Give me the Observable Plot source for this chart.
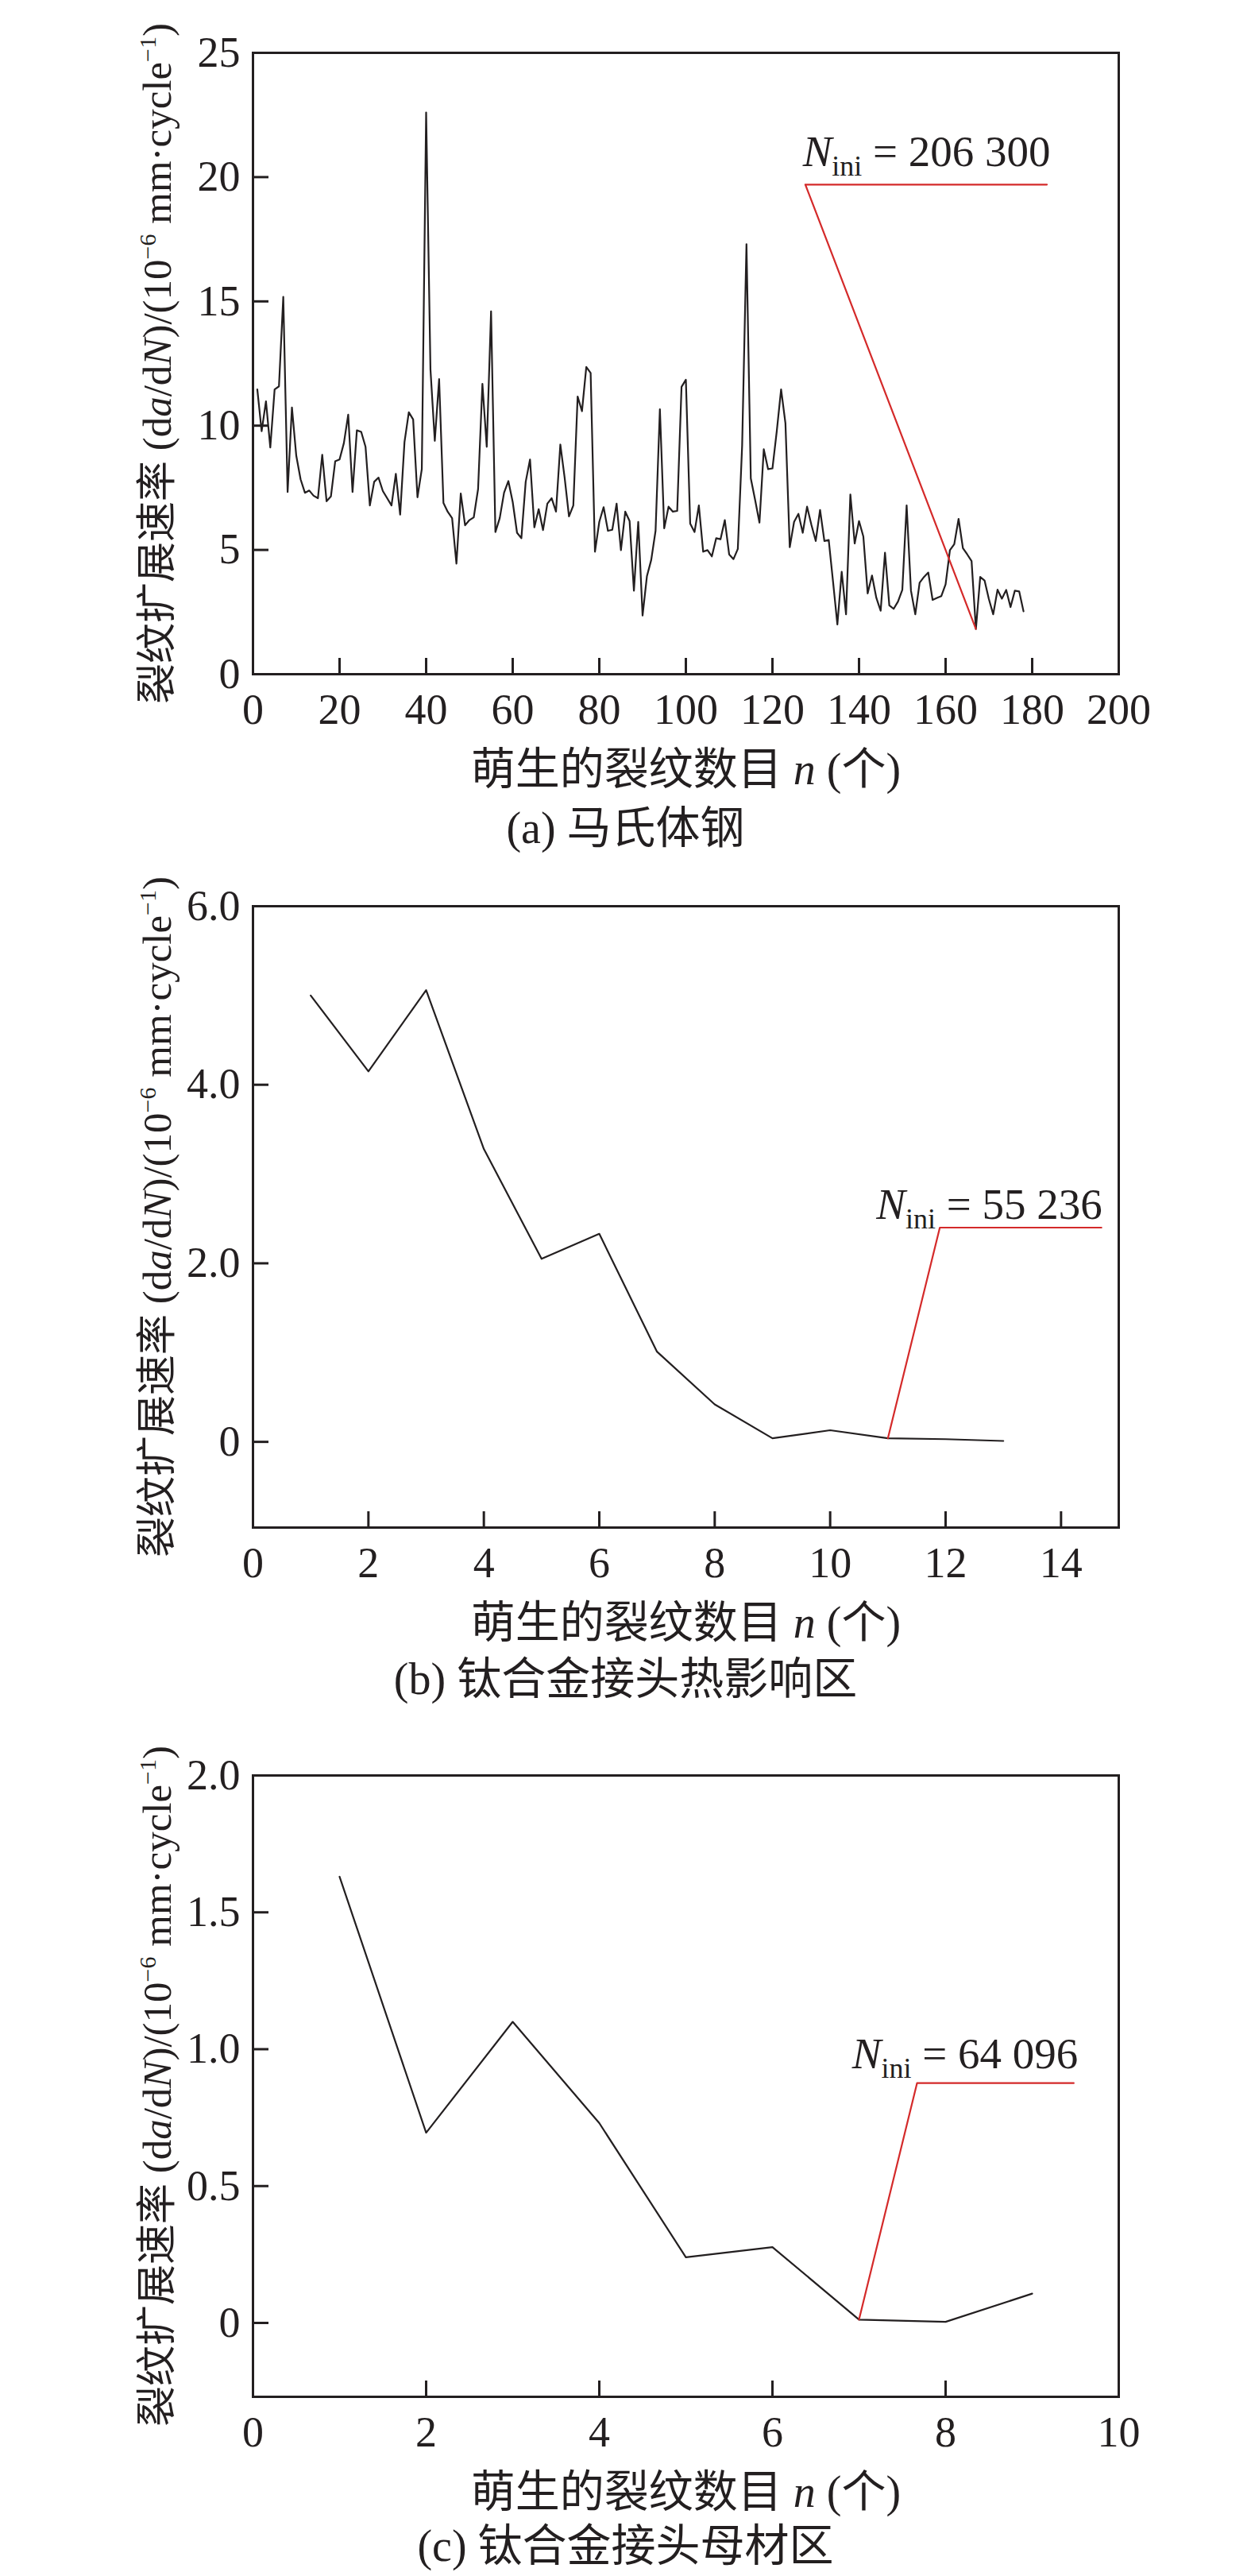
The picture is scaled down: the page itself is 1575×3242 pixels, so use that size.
<!DOCTYPE html>
<html><head><meta charset="utf-8">
<script src="https://cdn.jsdelivr.net/npm/d3@7"></script>
<script src="https://cdn.jsdelivr.net/npm/@observablehq/plot@0.6"></script>
<style>
body{margin:0;background:#fff;width:1575px;}
.cap{font-family:"Liberation Serif","Noto Sans CJK SC",serif;font-size:56px;color:#231f20;text-align:center;width:1575px;}
svg{display:block;}
</style></head><body><div id="root"></div>
<script>
// ---- data ----
const rateA = [11.46,9.78,10.98,9.12,11.46,11.58,15.18,7.33,10.73,8.79,
7.84,7.30,7.39,7.18,7.08,8.83,6.96,7.15,8.57,8.64,
9.30,10.44,7.33,9.81,9.75,9.15,6.79,7.74,7.91,7.37,
7.08,6.79,8.06,6.42,9.34,10.54,10.25,7.12,8.25,22.6,
12.26,9.39,11.87,6.89,6.53,6.28,4.45,7.27,5.99,6.20,
6.31,7.45,11.68,9.15,14.60,5.72,6.28,7.30,7.77,6.93,
5.69,5.47,7.74,8.64,5.91,6.64,5.8,6.86,7.08,6.54,
9.24,7.9,6.35,6.79,11.17,10.58,12.36,12.12,4.93,6.13,
6.72,5.77,5.81,6.86,4.99,6.54,6.16,3.36,6.13,2.36,
3.94,4.60,5.77,10.66,5.87,6.74,6.54,6.57,11.56,11.85,
6.06,5.72,6.79,4.93,4.99,4.74,5.47,5.43,6.20,4.82,
4.63,5.04,9.20,17.30,7.88,7.01,6.10,9.05,8.25,8.28,
9.78,11.46,10.10,5.11,6.13,6.45,5.69,6.74,6.01,5.36,
6.61,5.36,5.40,3.72,2.0,4.12,2.41,7.23,5.26,6.16,
5.54,3.25,3.97,3.07,2.55,4.89,2.77,2.63,2.92,3.39,
6.79,3.36,2.41,3.68,3.91,4.09,2.99,3.07,3.14,3.62,
4.99,5.23,6.25,5.07,4.82,4.55,1.82,3.91,3.77,3.02,
2.41,3.40,3.04,3.39,2.70,3.36,3.33,2.53];
const rateB = [5.00,4.15,5.06,3.28,2.05,2.33,1.01,0.42,0.04,0.13,0.04,0.03,0.01];
const rateC = [1.63,0.695,1.10,0.73,0.24,0.277,0.012,0.004,0.107];

const xTicksA = [0,20,40,60,80,100,120,140,160,180,200];
const yTicksA = [0,5,10,15,20,25];
const xTicksB = [0,2,4,6,8,10,12,14];
const yTicksB = [0,2,4,6];
const xTicksC = [0,2,4,6,8,10];
const yTicksC = [0,0.5,1,1.5,2];

// N_ini annotations: leader (from data point to elbow to end), label anchor
const nIniA = "206 300", leaderA = [[167,1.82],[127.6,19.7],[183.4,19.7]], labelPosA = [127,20.45];
const nIniB = "55 236",  leaderB = [[11,0.04],[11.9,2.40],[14.7,2.40]],   labelPosB = [10.8,2.5];
const nIniC = "64 096",  leaderC = [[7,0.012],[7.67,0.876],[9.48,0.876]], labelPosC = [6.92,0.93];

const captions = ["(a) 马氏体钢", "(b) 钛合金接头热影响区", "(c) 钛合金接头母材区"];
const xTitle = "萌生的裂纹数目 n (个)";
const yTitle = "裂纹扩展速率 (da/dN)/(10−6 mm·cycle−1)";

// ---- drawing ----
const FONT = '"Liberation Serif","Noto Sans CJK SC",serif';
const INK = "#231f20", RED = "#d42a2a";
const ML = 318, MR = 167, FH = 782, FW = 1575 - ML - MR;

function rich(svg, original, parts) {
  d3.select(svg).selectAll("text").filter(function () { return this.textContent === original; }).each(function () {
    const t = d3.select(this);
    t.selectAll("*").remove();
    t.text(null);
    let shift = 0;
    for (const p of parts) {
      const s = t.append("tspan").text(p.t);
      if (p.i) s.attr("font-style", "italic");
      const target = p.sup ? -p.sup : p.sub ? p.sub : 0;
      if (p.size) s.attr("font-size", p.size);
      if (target !== shift) { s.attr("dy", target - shift); shift = target; }
    }
  });
}

function panel({values, xDomain, yDomain, xTicks, yTicks, yFmt, leader, labelPos, nIni, mt, mb}) {
  const pts = values.map((v, i) => ({n: i + 1, v}));
  const svg = Plot.plot({
    width: 1575, height: mt + FH + mb,
    marginLeft: ML, marginRight: MR, marginTop: mt, marginBottom: mb,
    style: {fontFamily: FONT, fontSize: "54px", color: INK, background: "white", overflow: "visible"},
    x: {domain: xDomain}, y: {domain: yDomain},
    marks: [
      Plot.tickX(xTicks, {x: d => d, insetTop: FH - 20, stroke: INK, strokeWidth: 3}),
      Plot.tickY(yTicks, {y: d => d, insetRight: FW - 20, stroke: INK, strokeWidth: 3}),
      Plot.axisX({ticks: xTicks, tickSize: 0, tickPadding: 24, label: null, tickFormat: d => String(d)}),
      Plot.axisY({ticks: yTicks, tickSize: 0, tickPadding: 16, label: null, tickFormat: yFmt}),
      Plot.line(pts, {x: "n", y: "v", stroke: INK, strokeWidth: 2.2}),
      Plot.line(leader, {x: d => d[0], y: d => d[1], stroke: RED, strokeWidth: 2.2}),
      Plot.text([nIni], {x: () => labelPos[0], y: () => labelPos[1], text: d => d, textAnchor: "start", lineAnchor: "bottom", fontSize: 55, fill: INK}),
      Plot.text([xTitle], {frameAnchor: "bottom", dy: 121, text: d => d, textAnchor: "middle", lineAnchor: "middle", fontSize: 56, fill: INK}),
      Plot.text([yTitle], {frameAnchor: "left", dx: -120, rotate: -90, text: d => d, textAnchor: "middle", lineAnchor: "middle", fontSize: 51, fill: INK}),
      Plot.frame({stroke: INK, strokeWidth: 3})
    ]
  });
  rich(svg, nIni, [{t: "N", i: true}, {t: "ini", sub: 12, size: 36}, {t: " = " + nIni}]);
  rich(svg, xTitle, [{t: "萌生的裂纹数目 "}, {t: "n", i: true}, {t: " (个)"}]);
  rich(svg, yTitle, [{t: "裂纹扩展速率 (d"}, {t: "a", i: true}, {t: "/d"}, {t: "N", i: true},
    {t: ")/(10"}, {t: "−6", sup: 19, size: 30}, {t: " mm·cycle"}, {t: "−1", sup: 19, size: 30}, {t: ")"}]);
  return svg;
}

const root = document.getElementById("root");
function addCaption(text, h, extra) {
  const d = document.createElement("div");
  d.className = "cap"; d.style.height = h + "px"; d.style.lineHeight = h + "px";
  d.style.marginBottom = (extra || 0) + "px";
  d.textContent = text; root.appendChild(d);
}
const fmt1 = d => d === 0 ? "0" : d.toFixed(1);

root.appendChild(panel({values: rateA, xDomain: [0, 200], yDomain: [0, 25], xTicks: xTicksA, yTicks: yTicksA,
  yFmt: d => String(d), leader: leaderA, labelPos: labelPosA, nIni: nIniA, mt: 66, mb: 154}));
addCaption(captions[0], 80);
root.appendChild(panel({values: rateB, xDomain: [0, 15], yDomain: [-0.96, 6], xTicks: xTicksB, yTicks: yTicksB,
  yFmt: fmt1, leader: leaderB, labelPos: labelPosB, nIni: nIniB, mt: 58, mb: 152}));
addCaption(captions[1], 78, 18);
root.appendChild(panel({values: rateC, xDomain: [0, 10], yDomain: [-0.27, 2], xTicks: xTicksC, yTicks: yTicksC,
  yFmt: fmt1, leader: leaderC, labelPos: labelPosC, nIni: nIniC, mt: 64, mb: 150}));
addCaption(captions[2], 76);
</script></body></html>
